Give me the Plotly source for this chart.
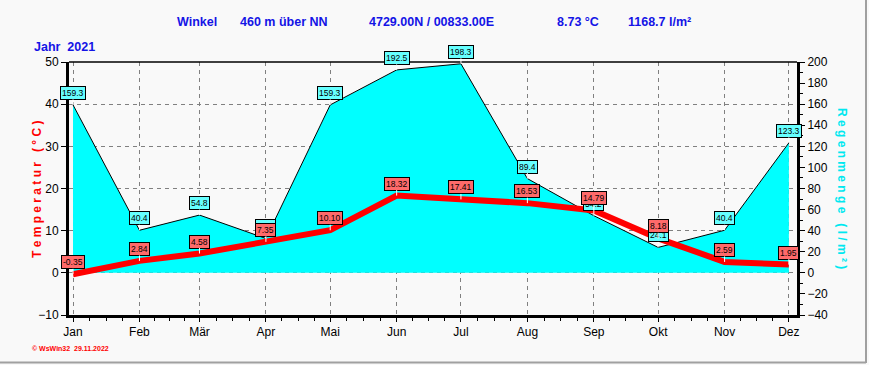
import plotly.graph_objects as go
import pandas as pd

months = ["2021-01-01", "2021-02-01", "2021-03-01", "2021-04-01", "2021-05-01", "2021-06-01",
          "2021-07-01", "2021-08-01", "2021-09-01", "2021-10-01", "2021-11-01", "2021-12-01"]
month_labels = ["Jan", "Feb", "Mär", "Apr", "Mai", "Jun", "Jul", "Aug", "Sep", "Okt", "Nov", "Dez"]
temperature = [-0.35, 2.84, 4.58, 7.35, 10.10, 18.32, 17.41, 16.53, 14.79, 8.18, 2.59, 1.95]
rain = [159.3, 40.4, 54.8, 32.6, 159.3, 192.5, 198.3, 89.4, 54.2, 24.1, 40.4, 123.3]

BLUE = "#1414e6"
BG = "#f9f9f9"
FONT = "Liberation Sans, Arial, sans-serif"

L, R, T, B = 69, 72, 62, 50
PW, PH = 869 - L - R, 365 - T - B


def px(x):
    return (x - L) / PW


def py(y):
    return (365 - B - y) / PH


# quarter-month minor ticks
mdates = pd.to_datetime(months + ["2022-01-01"])
minor_vals = []
for a, b in zip(mdates[:-1], mdates[1:]):
    for q in (1, 2, 3):
        minor_vals.append((a + (b - a) * q / 4).strftime("%Y-%m-%d %H:%M"))

fig = go.Figure()

fig.add_trace(go.Scatter(
    x=months, y=rain, mode="lines", fill="tozeroy", fillcolor="#00ffff",
    line=dict(color="black", width=1), yaxis="y", hoverinfo="skip", showlegend=False))

fig.add_trace(go.Scatter(
    x=months, y=temperature, mode="lines",
    line=dict(color="#ff0000", width=6), yaxis="y2", showlegend=False))

annotations = []
for m, r in zip(months, rain):
    annotations.append(dict(
        x=m, y=r, xref="x", yref="y", text=f"{r:.1f}", showarrow=True,
        ax=0, ay=-12, arrowhead=0, arrowwidth=1, arrowcolor="white",
        bgcolor="#66ffff", bordercolor="black", borderwidth=1, borderpad=1,
        font=dict(family=FONT, size=8.5, color="black")))
for m, t in zip(months, temperature):
    annotations.append(dict(
        x=m, y=t, xref="x", yref="y2", text=f"{t:.2f}", showarrow=True,
        ax=0, ay=-12, arrowhead=0, arrowwidth=1, arrowcolor="white",
        bgcolor="#ff6a6a", bordercolor="black", borderwidth=1, borderpad=1,
        font=dict(family=FONT, size=8.5, color="black")))

hdr = [("Winkel", 175), ("460 m über NN", 238), ("4729.00N / 00833.00E", 367),
       ("8.73 °C", 555), ("1168.7 l/m²", 626)]
for txt, xx in hdr:
    annotations.append(dict(x=px(xx), y=py(22), xref="paper", yref="paper",
                            xanchor="left", yanchor="middle", showarrow=False, text=f"<b>{txt}</b>",
                            font=dict(family=FONT, size=12.5, color=BLUE)))
annotations.append(dict(x=px(32), y=py(47), xref="paper", yref="paper",
                        xanchor="left", yanchor="middle", showarrow=False, text="<b>Jahr  2021</b>",
                        font=dict(family=FONT, size=12.5, color=BLUE)))
annotations.append(dict(x=px(37), y=py(190), xref="paper", yref="paper",
                        xanchor="center", yanchor="middle", showarrow=False, textangle=-90,
                        text="<b>T e m p e r a t u r   ( ° C )</b>",
                        font=dict(family=FONT, size=12, color="#ff0000")))
annotations.append(dict(x=px(842), y=py(188), xref="paper", yref="paper",
                        xanchor="center", yanchor="middle", showarrow=False, textangle=90,
                        text="<b>R e g e n m e n g e   ( l / m ² )</b>",
                        font=dict(family=FONT, size=12, color="#00e8f0")))
annotations.append(dict(x=px(30), y=py(348), xref="paper", yref="paper",
                        xanchor="left", yanchor="middle", showarrow=False,
                        text="<b>© WsWin32  29.11.2022</b>",
                        font=dict(family=FONT, size=7, color="#ff0000")))

grid_dash = "4px,4px"
fig.update_layout(
    width=869, height=365,
    margin=dict(l=L, r=R, t=T, b=B),
    paper_bgcolor=BG, plot_bgcolor=BG,
    font=dict(family=FONT, size=11, color="black"),
    annotations=annotations,
    xaxis=dict(
        type="date", range=["2020-12-30 03:00", "2021-12-04 19:00"],
        tickvals=months, ticktext=month_labels, tickmode="array",
        showgrid=True, gridcolor="#808080", griddash=grid_dash, gridwidth=1,
        showline=True, linecolor="black", linewidth=3,
        ticks="outside", ticklen=4, tickcolor="black",
        minor=dict(tickmode="array", tickvals=minor_vals, ticks="outside", ticklen=3,
                   tickcolor="black", showgrid=False),
        tickfont=dict(size=12), zeroline=False,
    ),
    yaxis=dict(
        side="right", range=[-40, 200], dtick=20, tick0=0,
        showgrid=False, zeroline=False,
        showline=True, linecolor="black", linewidth=3,
        ticks="outside", ticklen=5, tickcolor="black",
        minor=dict(dtick=10, ticks="outside", ticklen=3, tickcolor="black"),
        tickfont=dict(size=12),
    ),
    yaxis2=dict(
        overlaying="y", side="left", range=[-10, 50], dtick=10, tick0=0,
        showgrid=True, gridcolor="#808080", griddash=grid_dash, gridwidth=1,
        zeroline=False,
        showline=True, linecolor="black", linewidth=3,
        ticks="outside", ticklen=5, tickcolor="black",
        tickfont=dict(size=12),
    ),
    shapes=[
        dict(type="line", xref="paper", yref="paper", x0=0, x1=1, y0=1, y1=1,
             line=dict(color="black", width=1.5)),
        dict(type="line", xref="paper", yref="paper", x0=px(0), x1=px(866),
             y0=py(362.5), y1=py(362.5), line=dict(color="#a0a0a0", width=2)),
        dict(type="line", xref="paper", yref="paper", x0=px(866), x1=px(866),
             y0=py(363), y1=py(0), line=dict(color="#a0a0a0", width=2)),
    ],
)

fig.write_html("out.html", config={"displayModeBar": False},
               post_script="document.body.style.margin='0px';document.body.style.overflow='hidden';")
